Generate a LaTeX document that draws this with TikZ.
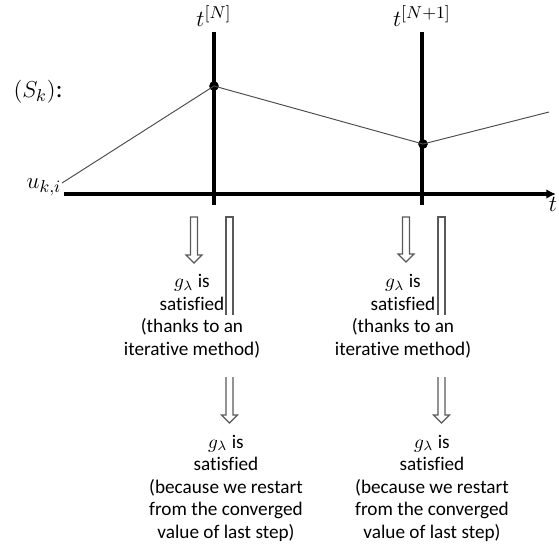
\documentclass[tikz,border=0pt]{standalone}
\usepackage{fontspec}
\setmainfont{Carlito}[Ligatures=NoCommon]
\usetikzlibrary{arrows.meta}

\tikzstyle{knot} = [circle, minimum width=5pt, fill, inner sep=0pt]
\tikzstyle{axis} = [line width=2pt]
\tikzstyle{txt} = [align=center, inner sep=0pt, font=\fontsize{10}{11.7}\selectfont]
\tikzstyle{lbl} = [inner sep=0pt, font=\fontsize{13}{15}\selectfont]
\tikzstyle{hollow} = [draw=gray!70!black, line width=0.6pt, line join=miter]

% hollow arrow pointing down: x, top, tip
\newcommand{\hollowdown}[3]{%
  \draw[hollow] (#1-3.5,#2) -- (#1-3.5,#3-8) -- (#1-8,#3-8) -- (#1,#3)
    -- (#1+8,#3-8) -- (#1+3.5,#3-8) -- (#1+3.5,#2) -- cycle;}

\begin{document}
\begin{tikzpicture}[x=0.52pt,y=-0.52pt]
\useasboundingbox (0,0) rectangle (559,544);
% axes
\coordinate (o) at (64,194);
\coordinate (tend) at (556,194);
\coordinate (n1top) at (214,32);
\coordinate (n1bot) at (214,205);
\coordinate (n2top) at (422,32);
\coordinate (n2bot) at (422,205);
\draw[axis, -{Latex[length=5pt,width=5pt]}] (o) -- (tend);
\draw[axis] (n1top) -- (n1bot);
\draw[axis] (n2top) -- (n2bot);
\node[lbl, anchor=north] (tlab) at (553,197) {$t$};
\node[lbl, anchor=south] (tn1) at (214,27) {$t^{[N]}$};
\node[lbl, anchor=south] (tn2) at (422,27) {$t^{[N+1]}$};
\node[lbl] (sk) at (38,92) {$(S_k)$:};
\node[lbl] (uki) at (44,187) {$u_{k,i}$};
% the solution
\coordinate (u0) at (62,183);
\node[knot] (p1) at (214,86) {};
\node[knot] (p2) at (423,144) {};
\coordinate (u3) at (549,112);
\draw[gray!60!black, line width=0.5pt] (u0) -- (p1.center) -- (p2.center) -- (u3);
% texts
\node[txt] (a1) at (192,316) {$g_\lambda$ is\\satisfied\\(thanks to an\\iterative method)};
\node[txt] (b1) at (403,316) {$g_\lambda$ is\\satisfied\\(thanks to an\\iterative method)};
\node[txt] (a2) at (226,488) {$g_\lambda$ is\\satisfied\\(because we restart\\from the converged\\value of last step)};
\node[txt] (b2) at (432,488) {$g_\lambda$ is\\satisfied\\(because we restart\\from the converged\\value of last step)};
% hollow arrows
\hollowdown{194}{217}{263}
\hollowdown{406}{217}{262}
\draw[hollow] (226,315) -- (226,217) -- (233,217) -- (233,315);
\draw[hollow] (438,315) -- (438,217) -- (445,217) -- (445,315);
\draw[hollow] (226,377) -- (226,415) -- (221.5,415) -- (229.5,423)
  -- (237.5,415) -- (233,415) -- (233,377);
\draw[hollow] (438,377) -- (438,415) -- (433.5,415) -- (441.5,423)
  -- (449.5,415) -- (445,415) -- (445,377);
\end{tikzpicture}
\end{document}
